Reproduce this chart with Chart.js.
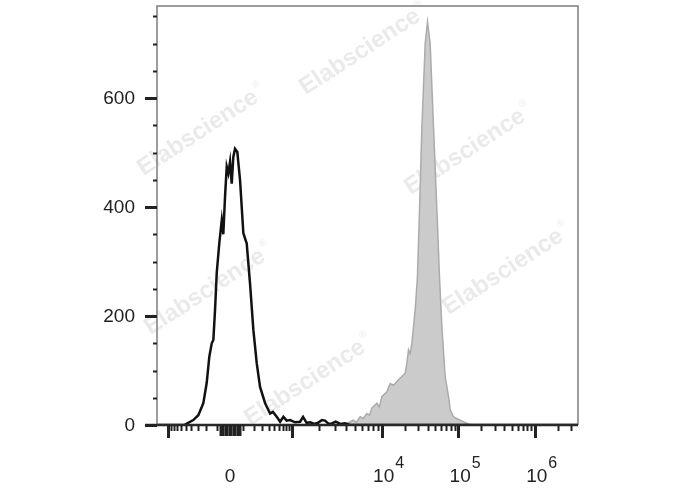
<!DOCTYPE html>
<html>
<head>
<meta charset="utf-8">
<script src="https://cdn.jsdelivr.net/npm/chart.js@4.4.1/dist/chart.umd.min.js"></script>
<style>
  html, body { margin: 0; padding: 0; background: #fff; overflow: hidden; }
  canvas { display: block; }
</style>
</head>
<body>
<canvas id="histChart" width="688" height="490"></canvas>
<script>
// histogram positions are in display units (decades on the biexponential axis, 0 = zero)
const blackPos = [-0.954, -0.60, -0.480, -0.414, -0.349, -0.305, -0.271, -0.239, -0.218, -0.196,
  -0.174, -0.140, -0.108, -0.088, -0.065, -0.043, -0.022, 0, 0.022, 0.043,
  0.065, 0.095, 0.131, 0.174, 0.218, 0.261, 0.305, 0.349, 0.392, 0.458,
  0.523, 0.560, 0.610, 0.654, 0.697, 0.740, 0.784, 0.850, 0.915, 0.954,
  1.000, 1.046, 1.100, 1.150, 1.200, 1.240, 1.290, 1.330, 1.380, 1.440,
  1.500, 1.570, 4.545];
const blackCount = [0, 0, 9, 18, 40, 77, 125, 150, 156, 211,
  279, 334, 376, 350, 420, 474, 462, 483, 443, 492,
  507, 501, 449, 352, 333, 260, 174, 113, 70, 40,
  21, 24, 15, 6, 15, 8, 9, 5, 6, 15,
  4, 5, 2, 4, 9, 8, 2, 3, 6, 2,
  3, 0, 0];

const grayPos = [1.40, 1.46, 1.525, 1.57, 1.612, 1.65, 1.699, 1.74, 1.787, 1.82,
  1.852, 1.918, 1.95, 1.983, 2.048, 2.092, 2.135, 2.200, 2.244, 2.288,
  2.310, 2.331, 2.353, 2.375, 2.418, 2.448, 2.475, 2.506, 2.549, 2.579,
  2.614, 2.658, 2.702, 2.736, 2.767, 2.810, 2.854, 2.876, 2.919, 2.96,
  3.007, 3.094, 3.15];
const grayCount = [0, 2, 3, 6, 9, 5, 15, 12, 21, 18,
  31, 40, 33, 52, 61, 76, 73, 83, 89, 95,
  113, 138, 131, 150, 211, 272, 394, 547, 700, 740,
  700, 547, 394, 272, 180, 89, 52, 28, 15, 12,
  9, 3, 0];

// axis ticks (intensity values)
const xMajorTicks = [-1000, 1000, 1e4, 1e5, 1e6];
const xZeroTicks = [-80, -70, -60, -50, -40, -30, -20, -10, 0, 10, 20, 30, 40, 50, 60, 70, 80];
const xMinorTicks = [-900, -800, -700, -600, -500, -400, -300, -200, -100,
  100, 200, 300, 400, 500, 600, 700, 800, 900,
  2000, 3000, 4000, 5000, 6000, 7000, 8000, 9000,
  2e4, 3e4, 4e4, 5e4, 6e4, 7e4, 8e4, 9e4,
  2e5, 3e5, 4e5, 5e5, 6e5, 7e5, 8e5, 9e5,
  2e6, 3e6];
const xLabelValues = [0, 1e4, 1e5, 1e6];
const xLabelBase = ['0', '10', '10', '10'];
const xLabelSup = ['', '4', '5', '6'];

const yMajorTicks = [0, 200, 400, 600];
const yMinorTicks = [50, 100, 150, 250, 300, 350, 450, 500, 550, 650, 700, 750];

const watermark = 'Elabscience';

// biexponential display transform
function toDisplay(v) {
  const a = Math.abs(v), s = Math.sign(v);
  if (a <= 1000) return s * 0.81 * Math.asinh(a / 200) / Math.asinh(5);
  if (a <= 1e4) return s * (0.81 + 1.17 * Math.log10(a / 1000));
  return s * (1.98 + Math.log10(a / 1e4));
}

const FONT = '"Liberation Sans", Arial, sans-serif';

const watermarkPlugin = {
  id: 'watermark',
  beforeDatasetsDraw(chart) {
    const ctx = chart.ctx;
    const spots = [[198, 133], [360, 52], [465, 152], [205, 292], [503, 272], [305, 383]];
    ctx.save();
    ctx.fillStyle = 'rgba(150,150,150,0.2)';
    spots.forEach(p => {
      ctx.save();
      ctx.translate(p[0], p[1]);
      ctx.rotate(-33 * Math.PI / 180);
      ctx.font = 'bold 24px ' + FONT;
      ctx.textAlign = 'center';
      ctx.textBaseline = 'middle';
      ctx.fillText(watermark, 0, 0);
      const w = ctx.measureText(watermark).width;
      ctx.font = '10px ' + FONT;
      ctx.textAlign = 'left';
      ctx.fillText('\u00AE', w / 2 + 2, -9);
      ctx.restore();
    });
    ctx.restore();
  }
};

const axesPlugin = {
  id: 'flowAxes',
  afterDraw(chart) {
    const {ctx, chartArea: a, scales: {x, y}} = chart;
    ctx.save();
    // frame
    ctx.strokeStyle = '#7d7d7d';
    ctx.lineWidth = 1.5;
    ctx.beginPath();
    ctx.moveTo(a.left, a.bottom);
    ctx.lineTo(a.left, a.top);
    ctx.lineTo(a.right, a.top);
    ctx.lineTo(a.right, a.bottom);
    ctx.stroke();

    // x axis
    ctx.strokeStyle = '#2a2a2a';
    ctx.lineWidth = 2.5;
    ctx.beginPath();
    ctx.moveTo(a.left - 12, a.bottom);
    ctx.lineTo(a.right, a.bottom);
    ctx.stroke();

    const xTicks = (vals, len, w) => {
      ctx.lineWidth = w;
      vals.forEach(v => {
        const px = Math.round(x.getPixelForValue(toDisplay(v))) + 0.5;
        ctx.beginPath();
        ctx.moveTo(px, a.bottom);
        ctx.lineTo(px, a.bottom + len);
        ctx.stroke();
      });
    };
    ctx.strokeStyle = '#222';
    xTicks(xMinorTicks, 6, 2);
    xTicks(xZeroTicks, 11, 2);
    xTicks(xMajorTicks, 13, 3);

    // y ticks
    const yTicks = (vals, len, w) => {
      ctx.lineWidth = w;
      vals.forEach(v => {
        const py = Math.round(y.getPixelForValue(v)) + 0.5;
        ctx.beginPath();
        ctx.moveTo(a.left, py);
        ctx.lineTo(a.left - len, py);
        ctx.stroke();
      });
    };
    yTicks(yMinorTicks, 4, 2);
    yTicks(yMajorTicks, 12, 3);

    // labels
    ctx.fillStyle = '#222';
    ctx.font = '19px ' + FONT;
    ctx.textAlign = 'right';
    ctx.textBaseline = 'middle';
    yMajorTicks.forEach(v => {
      ctx.fillText(String(v), a.left - 22, y.getPixelForValue(v) + 1);
    });

    ctx.textBaseline = 'alphabetic';
    xLabelValues.forEach((v, i) => {
      const px = x.getPixelForValue(toDisplay(v));
      ctx.font = '19px ' + FONT;
      ctx.textAlign = 'center';
      ctx.fillText(xLabelBase[i], px + (i ? 2 : 0), 482);
      if (xLabelSup[i]) {
        const w = ctx.measureText(xLabelBase[i]).width;
        ctx.font = '16px ' + FONT;
        ctx.textAlign = 'left';
        ctx.fillText(xLabelSup[i], px + 2 + w / 2 + 1, 468);
      }
    });
    ctx.restore();
  }
};

new Chart(document.getElementById('histChart'), {
  type: 'line',
  data: {
    datasets: [
      {
        data: blackPos.map((p, i) => ({x: p, y: blackCount[i]})),
        borderColor: '#111',
        borderWidth: 2.5,
        fill: false
      },
      {
        data: grayPos.map((p, i) => ({x: p, y: grayCount[i]})),
        borderColor: '#ababab',
        backgroundColor: '#cbcbcb',
        borderWidth: 1.5,
        fill: 'origin'
      }
    ]
  },
  options: {
    responsive: false,
    animation: false,
    events: [],
    layout: {padding: {left: 0, right: 110, top: 6, bottom: 0}},
    elements: {point: {radius: 0}, line: {tension: 0}},
    plugins: {legend: {display: false}, tooltip: {enabled: false}},
    scales: {
      x: {
        type: 'linear', min: -0.954, max: 4.545,
        ticks: {display: false},
        grid: {display: false, drawTicks: false},
        border: {display: false},
        afterFit(s) { s.height = 65; }
      },
      y: {
        min: 0, max: 769,
        ticks: {display: false},
        grid: {display: false, drawTicks: false},
        border: {display: false},
        afterFit(s) { s.width = 157; }
      }
    }
  },
  plugins: [watermarkPlugin, axesPlugin]
});
</script>
</body>
</html>
